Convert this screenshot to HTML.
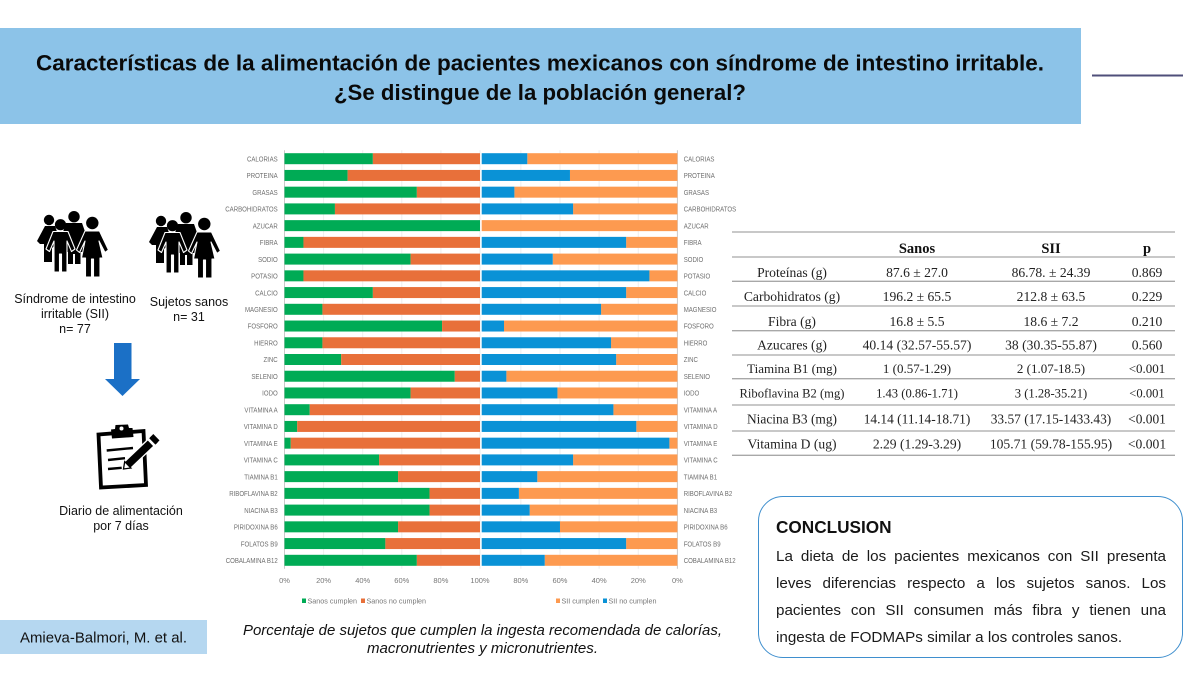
<!DOCTYPE html>
<html lang="es">
<head>
<meta charset="utf-8">
<title>Características de la alimentación</title>
<style>
html,body{margin:0;padding:0;background:#fff;}
#page{position:relative;width:1200px;height:675px;overflow:hidden;background:#fff;font-family:"Liberation Sans",sans-serif;}
svg{position:absolute;left:0;top:0;}
#conclusion-box{position:absolute;left:758px;top:496px;width:425px;height:162px;border:1.5px solid #3f8fce;border-radius:25px;box-sizing:border-box;}
#conclusion-title{position:absolute;left:776px;top:516px;font-size:17.2px;font-weight:bold;color:#111;line-height:22px;}
#conclusion-text{position:absolute;left:776px;top:542.5px;width:390px;font-size:15.2px;line-height:27px;color:#1a1a1a;}
#conclusion-text div{text-align:justify;text-align-last:justify;white-space:nowrap;}
#conclusion-text div.last{text-align:left;text-align-last:left;}
</style>
</head>
<body>
<div id="page">
<svg id="art" width="1200" height="675" viewBox="0 0 1200 675" xmlns="http://www.w3.org/2000/svg">
  <defs>
    <g id="people-icon">
      <g fill="#000">
        <circle cx="49" cy="220" r="5.2"/>
        <path d="M45 226H55L60 240L52 248V262H44V244H40L37 241Z"/>
        <circle cx="74" cy="216.700" r="5.700"/>
        <path d="M66 223H82L85.500 233V252H80.500V264H75V254H73V264H68V252H62V235Z"/>
      </g>
      <g fill="#000" stroke="#fff" stroke-width="1.1" stroke-linejoin="round">
        <path d="M53 231.500H68L75 249L71.500 251.500L67 241V272H61.500V254H59.500V272H54V241L49.500 251.500L46 249Z"/>
        <path d="M85 231H99.500L108.500 250L105 252.500L99 241L103 258H100V277H93.500V259H91.500V277H85.500V258H81.500L85 241L79.500 252.500L76.500 250Z"/>
      </g>
      <circle cx="60.500" cy="224.700" r="5.600" fill="#000"/>
      <circle cx="92.300" cy="223" r="6.200" fill="#000"/>
    </g>
  </defs>

  <rect x="0" y="28" width="1081" height="96" fill="#8cc3e8"/>
  <text x="540" y="70.500" text-anchor="middle" font-size="21.800" font-weight="bold" fill="#0a0a0a" textLength="1008" lengthAdjust="spacingAndGlyphs">Características de la alimentación de pacientes mexicanos con síndrome de intestino irritable.</text>
  <text x="540" y="100" text-anchor="middle" font-size="21.800" font-weight="bold" fill="#0a0a0a" textLength="412" lengthAdjust="spacingAndGlyphs">¿Se distingue de la población general?</text>
  <line x1="1092" y1="75.500" x2="1183" y2="75.500" stroke="#4f4f7a" stroke-width="2"/>

  <use href="#people-icon"/>
  <use href="#people-icon" x="112" y="1"/>

  <g font-size="12.500" fill="#111" text-anchor="middle">
    <text x="75" y="303">Síndrome de intestino</text>
    <text x="75" y="318">irritable (SII)</text>
    <text x="75" y="333">n= 77</text>
    <text x="189" y="306">Sujetos sanos</text>
    <text x="189" y="321">n= 31</text>
    <text x="121" y="515">Diario de alimentación</text>
    <text x="121" y="530">por 7 días</text>
  </g>

  <path d="M114 343h17.500v36h8.500l-17.500 17-17.500-17h9z" fill="#1b70c6"/>

  <g>
    <path d="M98.500 434.500L143.500 431L146 485L101 487.500Z" fill="#fff" stroke="#000" stroke-width="3.800" stroke-linejoin="miter"/>
    <path d="M111 429.500L115 429L115.500 425L128 424.500L129 428L132.500 428L133.500 437L112 438.500Z" fill="#000"/>
    <circle cx="121.500" cy="428.500" r="2" fill="#fff"/>
    <path d="M106.700 450.500L133 448M108 460L125 458.200M108 469L121.700 467.800" stroke="#000" stroke-width="2.400" fill="none"/>
    <path d="M123.500 469L124.700 461.600L147.800 439.600L154 446L130.900 468Z" fill="#000" stroke="#fff" stroke-width="1.300"/>
    <path d="M123.500 469L124.700 461.600L130.900 468Z" fill="#fff" stroke="#000" stroke-width="1.300"/>
    <path d="M149.200 438.200L151.400 436.100L157.600 442.500L155.400 444.600Z" fill="#000"/>
    <path d="M149.800 437.600L153.300 434L159.500 440.400L156 444Z" fill="#000"/>
  </g>

  <g id="chart"></g>

  <g id="table"></g>

  <rect x="0" y="620" width="207" height="34" fill="#b5d7f0"/>
  <text x="20" y="642.500" font-size="14.800" fill="#111" textLength="167" lengthAdjust="spacingAndGlyphs">Amieva-Balmori, M. et al.</text>

  <text x="482.500" y="635" text-anchor="middle" font-size="15" font-style="italic" fill="#111" textLength="479" lengthAdjust="spacingAndGlyphs">Porcentaje de sujetos que cumplen la ingesta recomendada de calorías,</text>
  <text x="482.500" y="653" text-anchor="middle" font-size="15" font-style="italic" fill="#111" textLength="231" lengthAdjust="spacingAndGlyphs">macronutrientes y micronutrientes.</text>
</svg>

<div id="conclusion-box"></div>
<div id="conclusion-title">CONCLUSION</div>
<div id="conclusion-text">
  <div>La dieta de los pacientes mexicanos con SII presenta</div>
  <div>leves diferencias respecto a los sujetos sanos. Los</div>
  <div>pacientes con SII consumen más fibra y tienen una</div>
  <div class="last">ingesta de FODMAPs similar a los controles sanos.</div>
</div>
</div>

<script>
var categories = ["CALORIAS","PROTEINA","GRASAS","CARBOHIDRATOS","AZUCAR","FIBRA","SODIO","POTASIO","CALCIO","MAGNESIO","FOSFORO","HIERRO","ZINC","SELENIO","IODO","VITAMINA A","VITAMINA D","VITAMINA E","VITAMINA C","TIAMINA B1","RIBOFLAVINA B2","NIACINA B3","PIRIDOXINA B6","FOLATOS B9","COBALAMINA B12"];
var sanosCumplen = [45.2,32.3,67.7,25.8,100,9.7,64.5,9.7,45.2,19.4,80.6,19.4,29,87.1,64.5,12.9,6.5,3.2,48.4,58.1,74.2,74.2,58.1,51.6,67.7];
var sanosNoCumplen = [54.8,67.7,32.3,74.2,0,90.3,35.5,90.3,54.8,80.6,19.4,80.6,71,12.9,35.5,87.1,93.5,96.8,51.6,41.9,25.8,25.8,41.9,48.4,32.3];
var siiCumplen = [76.7,54.9,83.3,53.3,100,26.2,63.7,14.3,26.2,39,88.6,33.9,31.3,87.4,61.3,32.7,21,4.1,53.3,71.6,81,75.5,60,26.2,67.8];
var siiNoCumplen = [23.3,45.1,16.7,46.7,0,73.8,36.3,85.7,73.8,61,11.4,66.1,68.7,12.6,38.7,67.3,79,95.9,46.7,28.4,19,24.5,40,73.8,32.2];
var leftTicks = [0,20,40,60,80,100];
var rightTicks = [80,60,40,20,0];

var tableHeader = ["","Sanos","SII","p"];
var tableRows = [
  ["Proteínas (g)","87.6 ± 27.0","86.78. ± 24.39","0.869"],
  ["Carbohidratos (g)","196.2 ± 65.5","212.8 ± 63.5","0.229"],
  ["Fibra (g)","16.8 ± 5.5","18.6 ± 7.2","0.210"],
  ["Azucares (g)","40.14 (32.57-55.57)","38 (30.35-55.87)","0.560"],
  ["Tiamina B1 (mg)","1 (0.57-1.29)","2 (1.07-18.5)","<0.001"],
  ["Riboflavina B2 (mg)","1.43 (0.86-1.71)","3 (1.28-35.21)","<0.001"],
  ["Niacina B3 (mg)","14.14 (11.14-18.71)","33.57 (17.15-1433.43)","<0.001"],
  ["Vitamina D (ug)","2.29 (1.29-3.29)","105.71 (59.78-155.95)","<0.001"]
];

var NS = "http://www.w3.org/2000/svg";
function mk(parent, tag, attrs, txt) {
  var e = document.createElementNS(NS, tag);
  for (var k in attrs) e.setAttribute(k, attrs[k]);
  if (txt !== undefined) e.textContent = txt;
  parent.appendChild(e);
  return e;
}

var chart = document.getElementById("chart");
var LEFT0 = 284.5, LEFT100 = 480, RIGHT0 = 677.4, RIGHT100 = 481.7;
function xL(v) { return LEFT0 + (LEFT100 - LEFT0) * v / 100; }
function xR(v) { return RIGHT0 + (RIGHT100 - RIGHT0) * v / 100; }
function yC(i) { return 158.7 + (560.3 - 158.7) * i / (categories.length - 1); }
var BAR_H = 11;
var TOP_Y = yC(0) - 8.4, BOT_Y = yC(categories.length - 1) + 8.4;
var LABEL_SCALE = 0.8;

leftTicks.forEach(function (t) {
  var g = mk(chart, "line", {x1: xL(t), x2: xL(t), y1: TOP_Y, y2: BOT_Y, stroke: t === 0 ? "#c9c9c9" : "#eeeeee", "stroke-width": 1});
  
  
  var l = mk(chart, "text", {x: xL(t), y: 583, "text-anchor": "middle", "font-size": 7.5, fill: "#777"}, t + "%");
  
  
});
rightTicks.forEach(function (t) {
  var g = mk(chart, "line", {x1: xR(t), x2: xR(t), y1: TOP_Y, y2: BOT_Y, stroke: t === 0 ? "#c9c9c9" : "#eeeeee", "stroke-width": 1});
  
  
  var l = mk(chart, "text", {x: xR(t), y: 583, "text-anchor": "middle", "font-size": 7.5, fill: "#777"}, t + "%");
  
  
});

categories.forEach(function (c, i) {
  var y = yC(i) - BAR_H / 2;
  var a = mk(chart, "rect", {x: xL(0), y: y, width: xL(sanosCumplen[i]) - xL(0), height: BAR_H, fill: "#00ab55"});
  
  
  var b = mk(chart, "rect", {x: xL(sanosCumplen[i]), y: y, width: xL(sanosCumplen[i] + sanosNoCumplen[i]) - xL(sanosCumplen[i]), height: BAR_H, fill: "#e8703a"});
  
  
  var d = mk(chart, "rect", {x: xR(siiCumplen[i]), y: y, width: xR(0) - xR(siiCumplen[i]), height: BAR_H, fill: "#fd9a50"});
  
  
  var e = mk(chart, "rect", {x: xR(siiCumplen[i] + siiNoCumplen[i]), y: y, width: xR(siiCumplen[i]) - xR(siiCumplen[i] + siiNoCumplen[i]), height: BAR_H, fill: "#0a92d6"});
  
  
  var l1 = mk(chart, "text", {transform: "translate(277.7," + (yC(i) + 2.7) + ") scale(" + LABEL_SCALE + ",1)", "text-anchor": "end", "font-size": 7.6, fill: "#6f6f6f"}, c);
  
  
  var l2 = mk(chart, "text", {transform: "translate(683.7," + (yC(i) + 2.7) + ") scale(" + LABEL_SCALE + ",1)", "font-size": 7.6, fill: "#6f6f6f"}, c);
  
  
});

var legendNames = ["Sanos cumplen","Sanos no cumplen","SII cumplen","SII no cumplen"];
var legendColors = ["#00ab55","#e8703a","#fd9a50","#0a92d6"];
var legendX = [302,361,556,603];
legendNames.forEach(function (n, i) {
  var s = mk(chart, "rect", {x: legendX[i], y: 598.5, width: 4, height: 4.5, fill: legendColors[i]});
  
  
  var t = mk(chart, "text", {x: legendX[i] + 5.5, y: 603.5, "font-size": 7.2, fill: "#777"}, n);
  
  
});

var tbl = document.getElementById("table");
var colX = [792, 917, 1051, 1147];
var ruleY = [232, 257, 281.3, 306, 330.7, 355, 378.7, 405, 431, 455.3];
var rowFontSize = [13.6,13.6,13.6,13.6,13,12.6,13.4,13.6];
var rowShift = [3.5,3,3,2,1.5,1,1,1];
ruleY.forEach(function (y) {
  var r = mk(tbl, "line", {x1: 732, x2: 1175, y1: y, y2: y, stroke: "#a8a8a8", "stroke-width": 1.3});
  
  
});
var serif = '"Liberation Serif",serif';
tableHeader.forEach(function (h, c) {
  var t = mk(tbl, "text", {x: colX[c], y: 253, "text-anchor": "middle", "font-size": 14.5, "font-weight": "bold", "font-family": serif, fill: "#111"}, h);
  
  
});
tableRows.forEach(function (row, i) {
  var mid = (ruleY[i + 1] + ruleY[i + 2]) / 2;
  row.forEach(function (v, c) {
    var t = mk(tbl, "text", {x: colX[c], y: mid + 4.4 + rowShift[i], "text-anchor": "middle", "font-size": rowFontSize[i], "font-family": serif, fill: "#222"}, v);
    
    
  });
});
</script>
</body>
</html>
